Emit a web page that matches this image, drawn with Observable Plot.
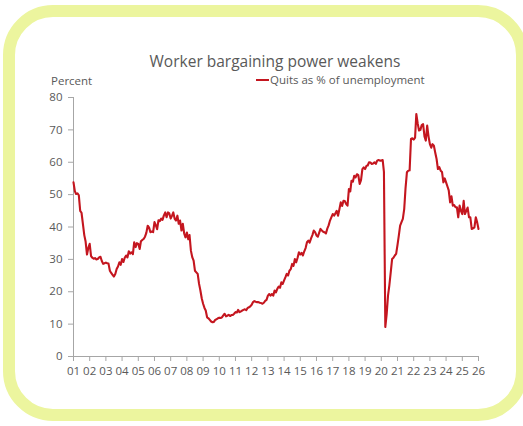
<!DOCTYPE html>
<html><head><meta charset="utf-8">
<script src="https://cdn.jsdelivr.net/npm/d3@7"></script>
<script src="https://cdn.jsdelivr.net/npm/@observablehq/plot@0.6"></script>
<style>
html,body{margin:0;padding:0;background:#fff;width:523px;height:426px;overflow:hidden;font-family:"Open Sans",sans-serif;}
#frame{position:absolute;left:3px;top:5px;width:501px;height:392px;border:12px solid #ecf59e;border-radius:50px;background:#fff;}
#title{position:absolute;left:0;width:550px;top:50px;text-align:center;font-size:15.5px;color:#595959;}
#legend{position:absolute;left:256px;top:72px;font-size:11.5px;color:#595959;display:flex;align-items:center;}
#legend span.sw{display:inline-block;width:13px;height:2px;background:#c4161f;margin-right:1px;}
#ylab{position:absolute;left:51px;top:73px;font-size:11.5px;color:#595959;}
#chart{position:absolute;left:0;top:0;}
</style></head>
<body>
<div id="frame"></div>
<div id="title">Worker bargaining power weakens</div>
<div id="legend"><span class="sw"></span>Quits as % of unemployment</div>
<div id="ylab">Percent</div>
<div id="chart"></div>
<script>
// Monthly values, Jan 2001 .. Jan 2026
const startYear = 2001;
const quits = [
  // 2001
  53.8, 51, 50.2, 50.4, 49.8, 45, 44.4, 41, 37.5, 35.5, 31.5, 33.5,
  // 2002
  34.8, 31, 30.5, 30.2, 30.4, 30, 30.1, 30.6, 30.8, 29.5, 28.6, 28.8,
  // 2003
  29, 28.8, 28.7, 26.5, 25.8, 25.2, 24.7, 25.5, 27, 27.8, 29.1, 28.3,
  // 2004
  30.1, 29.2, 30.5, 31.2, 30.6, 32.5, 31.8, 32.2, 31.6, 35.3, 33.8, 35,
  // 2005
  34.8, 33.2, 35.6, 36, 36.3, 37, 38.2, 40.4, 39.8, 38.4, 38.6, 38.4,
  // 2006
  41.5, 40.5, 39.3, 42.1, 41.8, 42.6, 42.2, 43.6, 44.5, 43, 44.5, 44.2,
  // 2007
  42.6, 43.5, 44.5, 42.5, 42, 43.5, 41, 42, 38.9, 41, 38, 36.8,
  // 2008
  38.3, 36.2, 37.5, 32.7, 30.7, 29.6, 26.5, 26, 25.5, 22.5, 20.4, 18,
  // 2009
  16.3, 15, 14.2, 12.1, 11.8, 11.3, 10.8, 10.6, 10.7, 11.3, 11.5, 11.8,
  // 2010
  12, 11.9, 12.1, 12.7, 13.2, 12.4, 12.6, 12.9, 12.5, 12.8, 12.8, 13.2,
  // 2011
  13.7, 13.6, 14.4, 13.7, 13.9, 14.2, 14.4, 14.6, 14.3, 15, 15.2, 15.5,
  // 2012
  16, 16.8, 17.1, 16.9, 16.8, 16.8, 16.6, 16.5, 16.3, 16.6, 17.2, 17.5,
  // 2013
  18.8, 19.3, 18.8, 19.3, 18.8, 20.4, 19.8, 20.9, 21.6, 21.2, 22.9, 22.4,
  // 2014
  23.5, 24.5, 25.5, 25, 26.5, 27, 28.6, 28, 30.1, 29.1, 30.5, 32.2,
  // 2015
  31.5, 32, 31.2, 32.5, 33.5, 35.3, 35.8, 35.2, 36.5, 37.5, 38.9, 38.4,
  // 2016
  37.4, 37, 38.2, 39.4, 38.9, 38.5, 38.4, 38, 39.5, 40.5, 42, 43,
  // 2017
  44, 43.5, 44.2, 45, 43.5, 45.5, 47.6, 46.5, 48.1, 48, 47.1, 46.6,
  // 2018
  51.7, 51, 54.3, 54, 55.8, 55.3, 56.3, 56, 53.3, 54.5, 57.9, 58.4,
  // 2019
  57.9, 58.9, 59, 60, 59.9, 59.5, 59.6, 60, 59.5, 60.5, 60.7, 60.5,
  // 2020
  60.5, 60.7, 57, 9.1, 13, 18.8, 22, 26, 30.1, 30.5, 31.2, 31.7,
  // 2021
  34.5, 37.5, 40.4, 41.5, 42.5, 45.5, 52, 56.9, 57.4, 57.5, 67.2, 67.4,
  // 2022
  67, 67.6, 74.9, 72, 69.8, 70, 71.5, 71.8, 68, 66.7, 71.3, 68,
  // 2023
  65.6, 64.5, 65.6, 65.1, 63, 61, 57.9, 58.5, 57.4, 57, 53.8, 55,
  // 2024
  53.8, 52.5, 51.3, 47.6, 49.5, 46.6, 46.8, 46.1, 46.1, 43, 46.6, 45,
  // 2025
  44, 48.1, 44, 45, 46, 43, 43, 39.4, 39.6, 39.9, 43, 41.5,
  // 2026
  39.4
];
const yTicks = [0, 10, 20, 30, 40, 50, 60, 70, 80];
const xTickYears = d3.range(2001, 2027);

const data = quits.map((v, i) => ({date: new Date(startYear, i, 1), value: v}));
const xTicks = xTickYears.map(y => new Date(y, 0, 1));

const grey = "#a6a6a6";
const textGrey = "#595959";

const chart = Plot.plot({
  width: 523,
  height: 426,
  marginLeft: 73,
  marginRight: 45,
  marginTop: 97,
  marginBottom: 70,
  style: {fontFamily: "Open Sans, sans-serif", fontSize: "11.5px", color: textGrey, background: "transparent", overflow: "visible"},
  x: {type: "utc", domain: [new Date(2001, 0, 1), new Date(2026, 0, 1)]},
  y: {domain: [0, 80]},
  marks: [
    Plot.ruleX([xTicks[0]], {y1: 0, y2: 80, stroke: grey, strokeWidth: 1}),
    Plot.ruleY([0], {stroke: grey, strokeWidth: 1}),
    Plot.axisY({ticks: yTicks, tickSize: 5, tickPadding: 6, stroke: grey, fill: textGrey, label: null}),
    Plot.axisX({ticks: xTicks, tickFormat: d => d3.timeFormat("%y")(d), tickSize: 5, tickPadding: 5, stroke: grey, fill: textGrey, label: null}),
    Plot.lineY(data, {x: "date", y: "value", stroke: "#c4161f", strokeWidth: 2.1, curve: "linear"})
  ]
});
document.getElementById("chart").appendChild(chart);
</script>
</body></html>
